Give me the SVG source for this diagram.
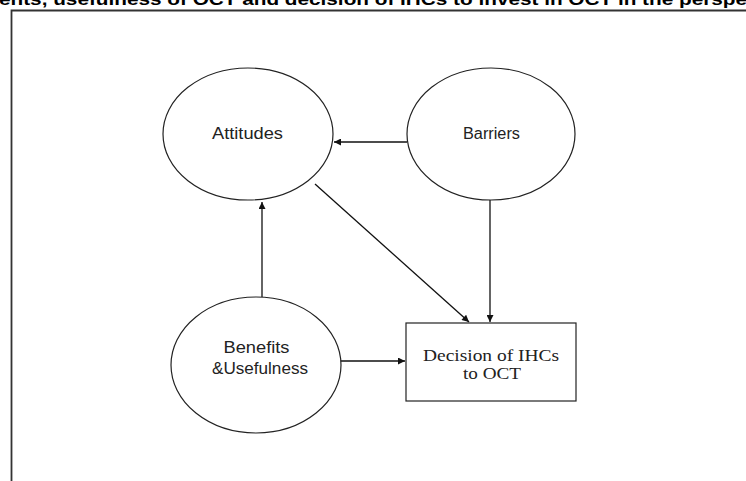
<svg xmlns="http://www.w3.org/2000/svg" width="746" height="481" viewBox="0 0 746 481">
<style>
.node{fill:#fff;stroke:#222;stroke-width:1.2}
.lbl{font-family:"Liberation Sans",Arial,sans-serif;font-size:16px;fill:#222;text-anchor:middle}
.lbls{font-family:"Liberation Serif","Times New Roman",serif;font-size:16px;fill:#222;text-anchor:middle}
.conn{stroke:#111;stroke-width:1.3;fill:none;marker-end:url(#ah)}
</style>
<defs>
<marker id="ah" viewBox="0 0 10 10" refX="10" refY="5" markerWidth="8" markerHeight="7" markerUnits="userSpaceOnUse" orient="auto">
<path d="M0,0 L10,5 L0,10 z" fill="#111"/>
</marker>
</defs>
<rect width="746" height="481" fill="#fff"/>
<text x="-1" y="5" font-family="Liberation Sans,Arial,sans-serif" font-weight="bold" font-size="16" fill="#000" textLength="748" lengthAdjust="spacingAndGlyphs">ents, usefulness of OCT and decision of IHCs to invest in OCT in the perspe</text>
<path d="M11.5,481 V10.5 H746" fill="none" stroke="#333" stroke-width="1.8"/>
<g id="connectors">
<line class="conn" x1="407" y1="142" x2="334" y2="142"/>
<line class="conn" x1="315" y1="184" x2="469" y2="322"/>
<line class="conn" x1="490" y1="200" x2="490" y2="322"/>
<line class="conn" x1="262" y1="297" x2="262" y2="202"/>
<line class="conn" x1="340" y1="361" x2="405" y2="361"/>
</g>
<g id="attitudes">
<ellipse class="node" cx="248" cy="134" rx="85" ry="66"/>
<text class="lbl" x="247.5" y="139" textLength="71" lengthAdjust="spacingAndGlyphs">Attitudes</text>
</g>
<g id="barriers">
<ellipse class="node" cx="491" cy="134" rx="84" ry="66"/>
<text class="lbl" x="491.5" y="139" textLength="57" lengthAdjust="spacingAndGlyphs">Barriers</text>
</g>
<g id="benefits">
<ellipse class="node" cx="256" cy="365" rx="85" ry="68"/>
<text class="lbl" x="256.5" y="353" textLength="66" lengthAdjust="spacingAndGlyphs">Benefits</text>
<text class="lbl" x="260" y="374" textLength="96" lengthAdjust="spacingAndGlyphs">&amp;Usefulness</text>
</g>
<g id="decision">
<rect class="node" x="406" y="323" width="170" height="78"/>
<text class="lbls" x="491" y="361" textLength="136" lengthAdjust="spacingAndGlyphs">Decision of IHCs</text>
<text class="lbls" x="492" y="379" textLength="58" lengthAdjust="spacingAndGlyphs">to OCT</text>
</g>
</svg>
